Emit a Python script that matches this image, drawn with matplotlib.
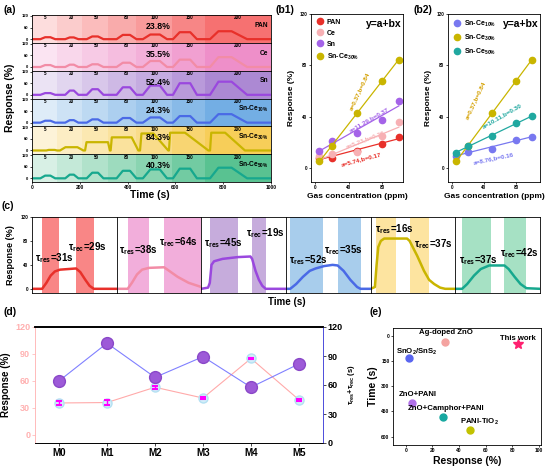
import numpy as np
import matplotlib
matplotlib.use('Agg')
import matplotlib.pyplot as plt

plt.rcParams['font.family'] = ['Liberation Sans', 'DejaVu Sans']
plt.rcParams['font.weight'] = 'bold'
plt.rcParams['axes.labelweight'] = 'bold'
plt.rcParams['mathtext.fontset'] = 'custom'
plt.rcParams['mathtext.rm'] = 'Liberation Sans:bold'
plt.rcParams['mathtext.it'] = 'Liberation Sans:bold'
plt.rcParams['mathtext.bf'] = 'Liberation Sans:bold'
plt.rcParams['mathtext.default'] = 'rm'
plt.rcParams['axes.linewidth'] = 0.6
plt.rcParams['xtick.major.width'] = 0.5
plt.rcParams['ytick.major.width'] = 0.5
plt.rcParams['xtick.major.size'] = 1.5
plt.rcParams['ytick.major.size'] = 1.5
plt.rcParams['xtick.major.pad'] = 1
plt.rcParams['ytick.major.pad'] = 1

W, H = 550, 472

# ---------------- data ----------------
series = ['PAN', 'Ce', 'Sn', 'Sn-Ce$_{10\\%}$', 'Sn-Ce$_{30\\%}$', 'Sn-Ce$_{50\\%}$']
line_colors = ['#e8302a', '#f28ca6', '#9a48de', '#4a6ae6', '#c9b500', '#17a88e']
band_colors = ['#f55858', '#ec7cc0', '#9e74cc', '#5aa0e0', '#f6c63c', '#3cb87e']
max_resp_text = ['23.8%', '35.5%', '52.4%', '24.3%', '84.3%', '40.3%']

# (a) dynamic response
conc_a = [5, 20, 50, 80, 100, 150, 200]
band_edges = [0, 104, 208, 319, 437, 584, 724, 1000]
conc_label_x = [57, 166, 270, 396, 511, 661, 862]

t_on = [35, 139, 229, 354, 464, 590, 745]
t_top1 = [55, 158, 252, 380, 495, 618, 780]
t_top2 = [77, 175, 276, 410, 535, 662, 835]
t_off = [97, 194, 299, 437, 565, 690, 900]
t_on30 = [60, 117, 222, 329, 452, 573, 745]
t_top1_30 = [70, 140, 228, 334, 458, 578, 750]
t_top2_30 = [95, 190, 318, 417, 508, 640, 808]
t_off30 = [105, 215, 326, 445, 570, 738, 891]

peak_pan = [10, 9, 14, 22, 24, 36, 41]
peak_ce = [10, 12, 14, 22, 31, 38, 51]
peak_sn = [9, 22, 29, 39, 48, 60, 68]
peak_snce10 = [10, 13, 17, 24, 27, 34, 44]
peak_snce30 = [3, 17, 43, 68, 88, 92, 92]
peak_snce50 = [14, 19, 29, 39, 46, 50, 55]

# (b) linear fits
conc_b = [5, 20, 50, 80, 100]
resp_pan = [8, 8, 13, 19, 23.8]
resp_ce = [9, 11, 12.5, 25, 35.5]
resp_sn = [13.5, 21, 27, 37, 52.4]
resp_snce10 = [9.5, 12.5, 15, 22, 24.3]
resp_snce30 = [5, 17, 43, 68, 84.3]
resp_snce50 = [12, 17, 25, 35, 40.3]
fit_text_b1 = ['a=5.74,b=0.17', 'a=5.23,b=0.26', 'a=11.29,b=0.37', 'a=0.37,b=0.84']
fit_text_b2 = ['a=8.76,b=0.16', 'a=0.37,b=0.84', 'a=10.11,b=0.30']

# (c) response / recovery
tau_res = [31, 38, 45, 52, 16, 37]
tau_rec = [29, 64, 19, 35, 37, 42]
res_band = [(12, 32), (13, 38), (10, 43), (5, 44), (6, 30), (8, 42)]
rec_band = [(52, 73), (56, 100), (60, 76), (61, 88), (46, 69), (58, 84)]
c_time_pan = [0, 12, 17, 22, 27, 33, 52, 57, 63, 68, 73, 100]
c_resp_pan = [0, 0, 10, 22, 29, 32, 34, 28, 15, 5, 0, 0]
c_time_ce = [0, 13, 18, 24, 30, 38, 56, 62, 72, 85, 100]
c_resp_ce = [0, 0, 10, 24, 32, 35, 36, 30, 20, 10, 3]
c_time_sn = [0, 8, 10, 12, 15, 25, 43, 58, 60, 64, 68, 72, 76, 100]
c_resp_sn = [0, 2, 10, 40, 46, 50, 53, 54, 50, 30, 15, 5, 0, 0]
c_time_snce10 = [0, 5, 12, 20, 28, 35, 45, 55, 61, 68, 76, 84, 88, 100]
c_resp_snce10 = [0, 0, 8, 20, 30, 34, 38, 40, 39, 30, 15, 3, 0, 0]
c_time_snce30 = [0, 5, 7, 9, 12, 16, 43, 46, 55, 63, 69, 75, 82, 88, 100]
c_resp_snce30 = [0, 3, 40, 70, 80, 84, 84, 80, 55, 30, 15, 8, 2, 0, 0]
c_time_snce50 = [0, 8, 14, 22, 30, 40, 58, 63, 70, 77, 84, 100]
c_resp_snce50 = [0, 0, 8, 22, 33, 39, 39, 33, 20, 8, 1, 0]

# (d) summary
samples = ['M0', 'M1', 'M2', 'M3', 'M4', 'M5']
resp_d = [35.5, 36, 53, 41, 85, 39]
resp_err = [2, 3, 1.5, 1.5, 1, 1]
tau_sum = [a + b for a, b in zip(tau_res, tau_rec)]

# (e) comparison
ref_names = ['Ag-doped ZnO', 'SnO$_2$/SnS$_2$', 'ZnO+PANI', 'ZnO+Camphor+PANI', 'PANI-TiO$_2$', 'This work']
ref_resp = [29.5, 2.5, 5, 28, 48, 84.5]
ref_time = [36, 131, 398, 485, 562, 53]
ref_colors = ['#f4a3a0', '#5a66f0', '#b070e8', '#17a8a0', '#c2c200', '#ff2070']


def px_axes(fig, l, t, r, b):
    return fig.add_axes([l / W, 1 - b / H, (r - l) / W, (b - t) / H])


def pulse_curve(on, top1, top2, off, peaks):
    t, y = [0], [0]
    for a, b, c, d, p in zip(on, top1, top2, off, peaks):
        t += [a, b, c, d]
        y += [0, p, p, 0]
    t.append(1000)
    y.append(0)
    return t, y


fig = plt.figure(figsize=(W / 100, H / 100), dpi=100)

# ---------------- (a) ----------------
peaks_all = [peak_pan, peak_ce, peak_sn, peak_snce10, peak_snce30, peak_snce50]
band_alpha = [0.2, 0.3, 0.4, 0.5, 0.6, 0.72, 0.85]
row_h = (182 - 15) / 6
for i in range(6):
    top = 15 + i * row_h
    ax = px_axes(fig, 32, top, 271, top + row_h)
    for j in range(7):
        ax.axvspan(band_edges[j], band_edges[j + 1], color=band_colors[i],
                   alpha=band_alpha[j], lw=0)
        ax.text(conc_label_x[j], 123, str(conc_a[j]), fontsize=3.3,
                ha='center', va='top')
    if i == 4:
        t, y = pulse_curve(t_on30, t_top1_30, t_top2_30, t_off30, peaks_all[i])
    else:
        t, y = pulse_curve(t_on, t_top1, t_top2, t_off, peaks_all[i])
    ax.plot(t, y, color=line_colors[i], lw=1.6, solid_joinstyle='round')
    ax.set_xlim(0, 1000)
    ax.set_ylim(-19, 125)
    ax.set_yticks([0, 60, 120])
    ax.tick_params(axis='y', labelsize=3)
    ax.set_xticks(range(0, 1001, 200))
    if i < 5:
        ax.tick_params(axis='x', labelbottom=False, length=0)
    else:
        ax.tick_params(axis='x', labelsize=3.5)
    ax.text(988, 72, series[i], fontsize=4.8, ha='right', va='center')
    ax.text(530, 65, max_resp_text[i], fontsize=6.3, ha='center', va='center')

fig.text(10 / W, 1 - 98 / H, 'Response (%)', rotation=90, fontsize=7.5,
         ha='center', va='center')
fig.text(150 / W, 1 - 195 / H, 'Time (s)', fontsize=7.5, ha='center', va='center')

# ---------------- (b1) / (b2) ----------------
def fit_panel(ax, data, colors, names, texts, text_xy, text_rot, text_colors, xmax):
    for d, c, n in zip(data, colors, names):
        b, a = np.polyfit(conc_b, d, 1)
        xs = np.array([conc_b[0], conc_b[-1]])
        ax.plot(xs, a + b * xs, color=c, lw=0.9)
        ax.plot(conc_b, d, 'o', ms=4.5, color=c, mec=c, label=n)
    for s, (x, y), r, c in zip(texts, text_xy, text_rot, text_colors):
        ax.text(x, y, s, fontsize=4.6, rotation=r, color=c, ha='center',
                va='center', rotation_mode='anchor')
    ax.set_xlim(-5, xmax)
    ax.set_ylim(-11, 120)
    ax.set_xticks([0, 40, 80])
    ax.set_yticks([0, 40, 80, 120])
    ax.tick_params(labelsize=3.3)
    ax.set_ylabel('Response (%)', fontsize=6, labelpad=3)
    ax.set_xlabel('Gas concentration (ppm)', fontsize=6, labelpad=2)
    ax.legend(loc='upper left', frameon=False, fontsize=5, handletextpad=0.4,
              labelspacing=0.55, borderaxespad=0.3, handlelength=1.2)
    ax.text(0.98, 0.97, 'y=a+bx', transform=ax.transAxes, fontsize=7.5,
            ha='right', va='top')


axb1 = px_axes(fig, 311, 14, 403, 182)
fit_panel(axb1, [resp_pan, resp_ce, resp_sn, resp_snce30],
          [line_colors[0], '#f7b0b4', '#a463e8', line_colors[4]],
          ['PAN', 'Ce', 'Sn', series[4]], fit_text_b1,
          [(55, 7), (60, 22), (64, 37.5), (53, 60)], [15, 21, 30, 65],
          [line_colors[0], '#f7b0b4', '#a463e8', '#d4a000'], 105)

axb2 = px_axes(fig, 448, 14, 540, 182)
fit_panel(axb2, [resp_snce10, resp_snce30, resp_snce50],
          ['#7878f0', line_colors[4], '#20a8a0'],
          [series[3], series[4], series[5]], fit_text_b2,
          [(52, 7.5), (29, 53), (62, 41)], [12, 65, 30],
          ['#7878f0', '#d4a000', '#20a8a0'], 110)

# ---------------- (c) ----------------
c_times = [c_time_pan, c_time_ce, c_time_sn, c_time_snce10, c_time_snce30, c_time_snce50]
c_resps = [c_resp_pan, c_resp_ce, c_resp_sn, c_resp_snce10, c_resp_snce30, c_resp_snce50]
c_band_colors = ['#f98686', '#f2aedb', '#c6acdc', '#a8cdec', '#fde4a0', '#a6e1c4']
res_label_xy = [(3.5, 46), (3, 60), (3.5, 71), (3, 43), (5, 95), (4, 43)]
rec_label_xy = [(42.5, 65), (50, 73), (53, 88), (45, 60), (51, 70), (53, 55)]
pw = (540 - 32) / 6
for i in range(6):
    ax = px_axes(fig, 32 + i * pw, 217, 32 + (i + 1) * pw, 293)
    ax.axvspan(*res_band[i], color=c_band_colors[i], lw=0)
    ax.axvspan(*rec_band[i], color=c_band_colors[i], lw=0)
    ax.plot(c_times[i], c_resps[i], color=line_colors[i], lw=1.8,
            solid_joinstyle='round')
    ax.set_xlim(0, 100)
    ax.set_ylim(-7, 120)
    ax.set_xticks([])
    if i == 0:
        ax.set_yticks([0, 40, 80, 120])
        ax.tick_params(axis='y', labelsize=3.3)
        ax.set_ylabel('Response (%)', fontsize=6.5, labelpad=4)
    else:
        ax.set_yticks([])
    ax.text(*res_label_xy[i], 'τ$_{res}$=%ds' % tau_res[i], fontsize=7, va='baseline')
    ax.text(*rec_label_xy[i], 'τ$_{rec}$=%ds' % tau_rec[i], fontsize=7, va='baseline')
fig.text(287 / W, 1 - 302 / H, 'Time (s)', fontsize=7, ha='center', va='center')

# ---------------- (d) ----------------
axd = px_axes(fig, 35, 327, 323, 443)
xd = np.arange(len(samples))
axd.plot(xd, resp_d, color='#ffaaaa', lw=0.8, zorder=2)
axd.plot(xd, resp_d, 'o', ms=6.5, mfc='#d2effa', mec='#b4e0f2', zorder=3)
axd.errorbar(xd, resp_d, yerr=resp_err, fmt='none', ecolor='#ff00ff',
             elinewidth=1, capsize=2.5, capthick=1.5, zorder=4)
axd.plot(xd, tau_sum, color='#8080ff', lw=0.8, marker='o', ms=8.5,
         mfc='#9d5ad8', mec='#8a48c8', zorder=5)
axd.set_xlim(-0.5, 5.5)
axd.set_ylim(-9, 120)
axd.set_yticks([0, 30, 60, 90, 120])
axd.set_xticks(xd)
axd.set_xticklabels(samples)
axd.tick_params(axis='x', labelsize=7, length=2.5)
axd.tick_params(axis='y', labelsize=6.5, colors='#ffb0b0', length=2.5)
axd.spines['left'].set_color('#ffb0b0')
axd.spines['top'].set_linewidth(1.2)
axd.set_ylabel('Response (%)', fontsize=7, labelpad=3)
axd2 = axd.twinx()
axd2.set_ylim(0, 120)
axd2.set_yticks([0, 30, 60, 90, 120])
axd2.tick_params(axis='y', labelsize=6.5, length=2.5)
axd2.spines['right'].set_color('#5a5aff')
axd2.spines['left'].set_visible(False)
axd2.spines['top'].set_linewidth(1.2)
axd2.set_ylabel('τ$_{res}$+τ$_{rec}$ (s)', fontsize=5.5, labelpad=2)

# ---------------- (e) ----------------
axe = px_axes(fig, 393, 328, 541, 445)
ref_label_xy = [(30.5, -16), (8, 99), (9, 350), (30, 435), (55.5, 515), (84, 16)]
for n, x, y, c, (lx, ly) in zip(ref_names, ref_resp, ref_time, ref_colors, ref_label_xy):
    if n == 'This work':
        axe.plot(x, y, '*', ms=7, color=c)
    else:
        axe.plot(x, y, 'o', ms=5, color=c)
    axe.text(lx, ly, n, fontsize=5.6, ha='center', va='center')
axe.set_xlim(-9.5, 101.5)
axe.set_ylim(650, -45)
axe.set_xticks(range(0, 101, 20))
axe.set_yticks([0, 150, 300, 450, 600])
axe.tick_params(labelsize=3.5)
axe.set_xlabel('Response (%)', fontsize=7.5, labelpad=2)
axe.set_ylabel('Time (s)', fontsize=7.5, labelpad=2)

# panel labels
for s, x, y in [('(a)', 3, 5), ('(b1)', 276, 5), ('(b2)', 413, 5),
                ('(c)', 2, 201), ('(d)', 3, 307), ('(e)', 370, 307)]:
    fig.text(x / W, 1 - y / H, s, fontsize=7.5, ha='left', va='top')

fig.savefig('out.png', dpi=100)
